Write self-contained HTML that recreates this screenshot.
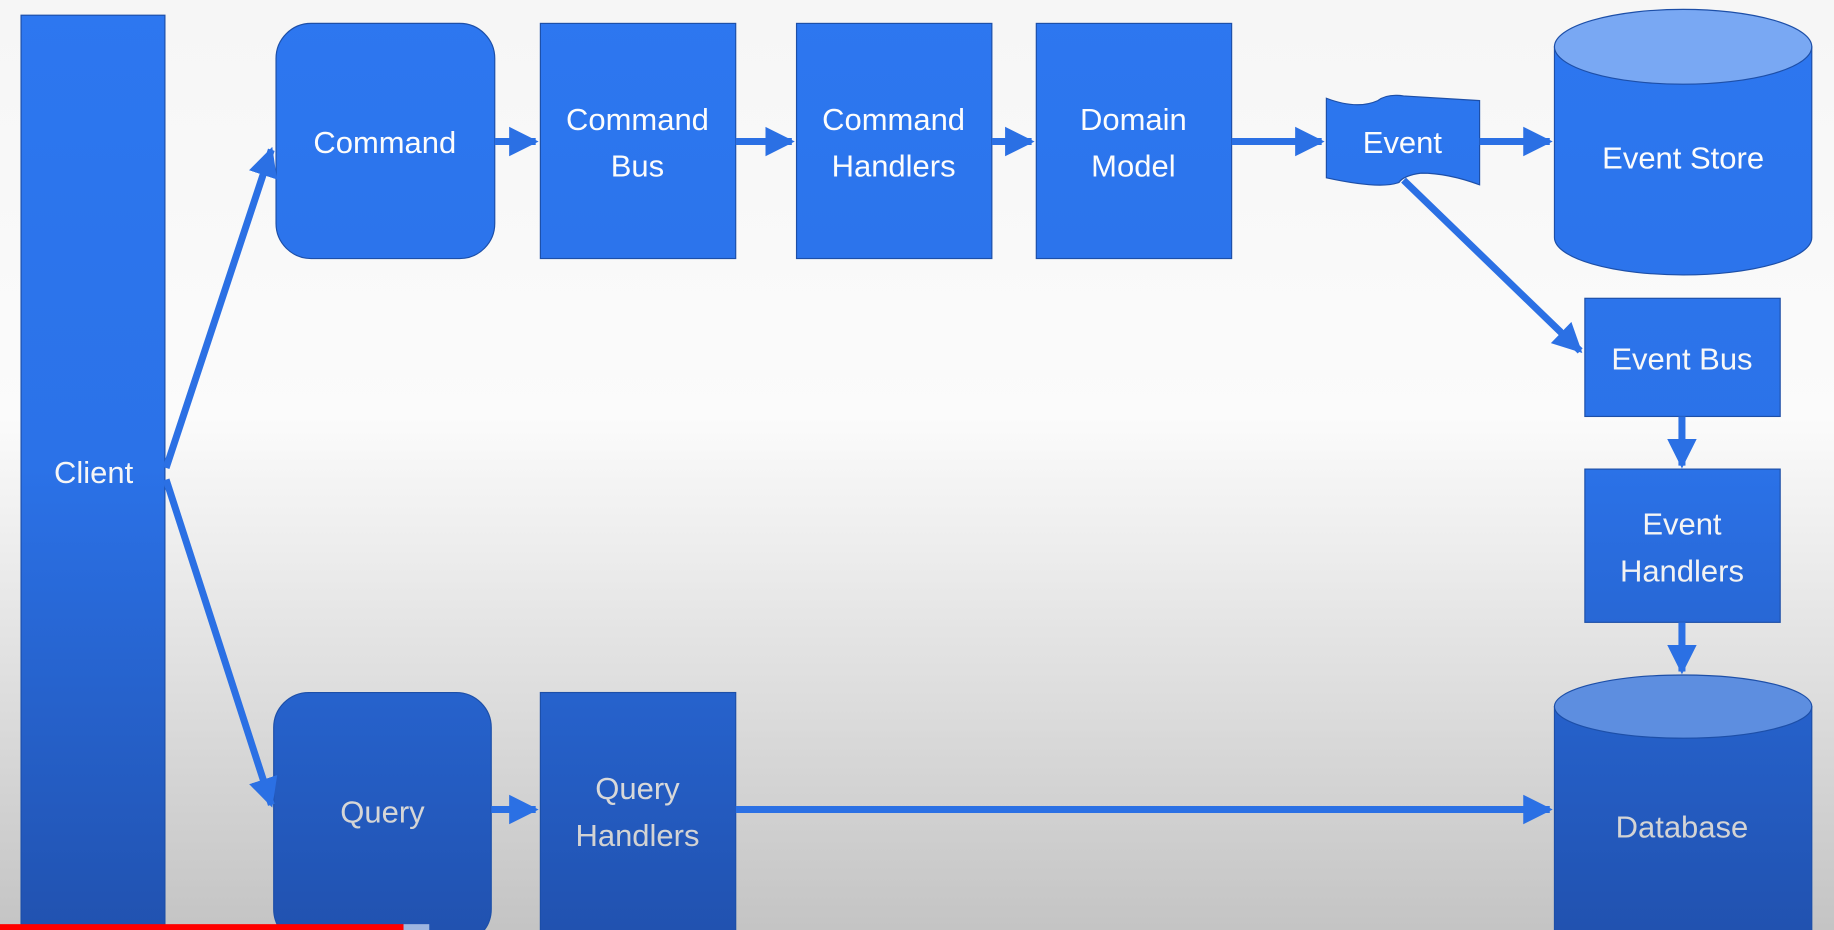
<!DOCTYPE html>
<html><head><meta charset="utf-8"><style>
html,body{margin:0;padding:0;width:1834px;height:930px;overflow:hidden}
svg{display:block}
text{font-family:"Liberation Sans",sans-serif;font-size:26.5px;text-anchor:middle}
</style></head><body>
<svg width="1834" height="930" viewBox="0 0 1568 795" preserveAspectRatio="none" xmlns="http://www.w3.org/2000/svg">
<defs>
<linearGradient id="bg" x1="0" y1="0" x2="0" y2="795" gradientUnits="userSpaceOnUse">
<stop offset="0" stop-color="#f6f6f6"/><stop offset="0.45" stop-color="#fbfbfb"/><stop offset="1" stop-color="#c4c4c4"/></linearGradient>
<linearGradient id="fl" x1="0" y1="0" x2="0" y2="795" gradientUnits="userSpaceOnUse">
<stop offset="0" stop-color="#2d77f0"/><stop offset="0.5" stop-color="#2b72e8"/><stop offset="1" stop-color="#2152b0"/></linearGradient>
<linearGradient id="tx" x1="0" y1="0" x2="0" y2="795" gradientUnits="userSpaceOnUse">
<stop offset="0" stop-color="#ffffff"/><stop offset="0.6" stop-color="#f4f4f4"/><stop offset="1" stop-color="#c8c8c8"/></linearGradient>
<marker id="ah" viewBox="0 0 10 10" refX="9" refY="5" markerWidth="4.2" markerHeight="4.6" orient="auto" markerUnits="strokeWidth">
<path d="M0,0 L10,5 L0,10 Z" fill="#2b70e4"/></marker>
</defs>
<rect width="1568" height="795" fill="url(#bg)"/>
<g fill="url(#fl)" stroke="#1d4fa8" stroke-width="1">
<rect x="18" y="13" width="123" height="790"/>
<rect x="236" y="20" width="187" height="201" rx="30"/>
<rect x="462" y="20" width="167" height="201"/>
<rect x="681" y="20" width="167" height="201"/>
<rect x="886" y="20" width="167" height="201"/>
<path d="M1134,84 Q1160,94 1178,86 Q1186,80 1200,82 L1265,86 L1265,158 Q1238,148 1215,148 Q1200,150 1196,156 Q1180,162 1134,152 Z"/>
<path d="M1329,40 L1329,203 A110,32 0 0 0 1549,203 L1549,40 Z"/>
<ellipse cx="1439" cy="40" rx="110" ry="32" fill="#79a8f3"/>
<rect x="1355" y="255" width="167" height="101"/>
<rect x="1355" y="401" width="167" height="131"/>
<path d="M1329,604 L1329,800 L1549,800 L1549,604 Z"/>
<ellipse cx="1439" cy="604" rx="110" ry="27" fill="#5d8ee0"/>
<rect x="234" y="592" width="186" height="215" rx="30"/>
<rect x="462" y="592" width="167" height="210"/>
</g>
<g stroke="#2b70e4" stroke-width="6" fill="none" marker-end="url(#ah)">
<line x1="142" y1="400" x2="232" y2="128"/>
<line x1="142" y1="410" x2="232" y2="688"/>
<line x1="423" y1="121" x2="458" y2="121"/>
<line x1="629" y1="121" x2="677" y2="121"/>
<line x1="848" y1="121" x2="882" y2="121"/>
<line x1="1053" y1="121" x2="1130" y2="121"/>
<line x1="1265" y1="121" x2="1325" y2="121"/>
<line x1="1200" y1="154" x2="1351" y2="300"/>
<line x1="1438" y1="356" x2="1438" y2="398"/>
<line x1="1438" y1="532" x2="1438" y2="574"/>
<line x1="420" y1="692" x2="458" y2="692"/>
<line x1="629" y1="692" x2="1325" y2="692"/>
</g>
<g fill="url(#tx)">
<text x="80" y="413">Client</text>
<text x="329" y="131">Command</text>
<text x="545" y="111">Command</text><text x="545" y="151">Bus</text>
<text x="764" y="111">Command</text><text x="764" y="151">Handlers</text>
<text x="969" y="111">Domain</text><text x="969" y="151">Model</text>
<text x="1199" y="131">Event</text>
<text x="1439" y="144">Event Store</text>
<text x="1438" y="316">Event Bus</text>
<text x="1438" y="457">Event</text><text x="1438" y="497">Handlers</text>
<text x="1438" y="716">Database</text>
<text x="327" y="703">Query</text>
<text x="545" y="683">Query</text><text x="545" y="723">Handlers</text>
</g>
<rect x="0" y="790" width="345" height="5" fill="#f00"/>
<rect x="345" y="790" width="22" height="5" fill="#9fb6e0"/>
</svg>
</body></html>
